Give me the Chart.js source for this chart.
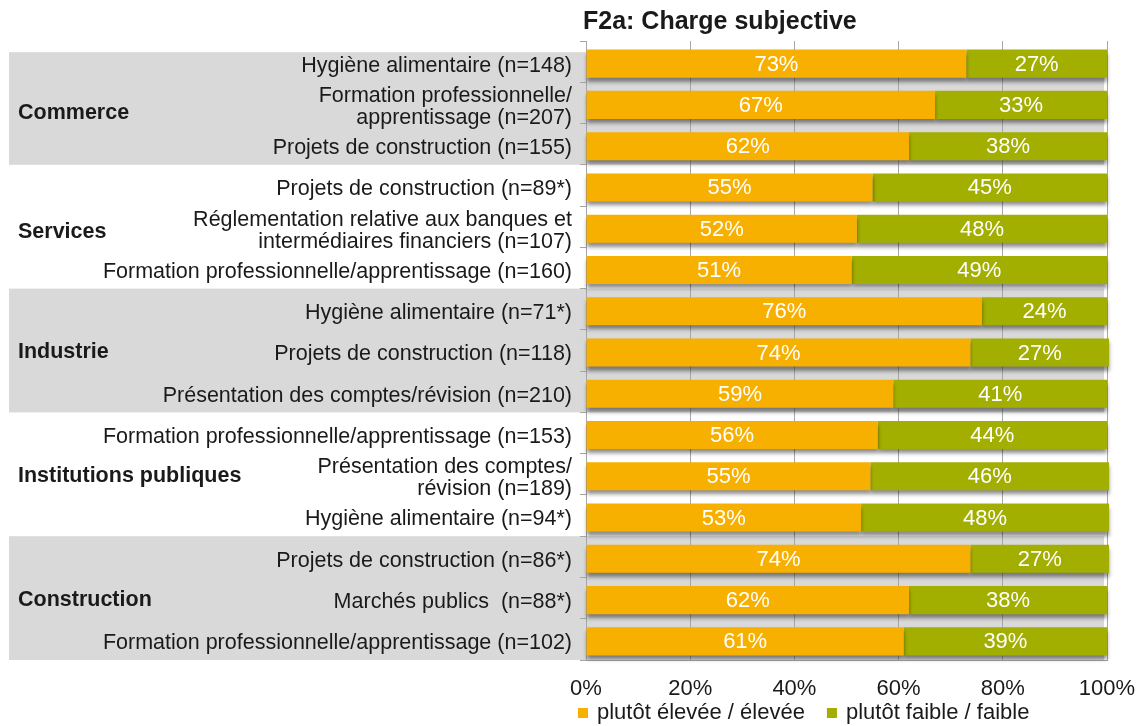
<!DOCTYPE html>
<html>
<head>
<meta charset="utf-8">
<script src="https://cdn.jsdelivr.net/npm/chart.js@4.4.1/dist/chart.umd.min.js"></script>
<style>
  html, body { margin: 0; padding: 0; background: #fff; }
  #wrap { width: 1138px; height: 726px; position: relative; }
</style>
</head>
<body>
<div id="wrap"><canvas id="chart"></canvas></div>
<script>
const TITLE = "F2a: Charge subjective";

const rowLabels = [
  "Hygiène alimentaire (n=148)",
  ["Formation professionnelle/", "apprentissage (n=207)"],
  "Projets de construction (n=155)",
  "Projets de construction (n=89*)",
  ["Réglementation relative aux banques et", "intermédiaires financiers (n=107)"],
  "Formation professionnelle/apprentissage (n=160)",
  "Hygiène alimentaire (n=71*)",
  "Projets de construction (n=118)",
  "Présentation des comptes/révision (n=210)",
  "Formation professionnelle/apprentissage (n=153)",
  ["Présentation des comptes/", "révision (n=189)"],
  "Hygiène alimentaire (n=94*)",
  "Projets de construction (n=86*)",
  "Marchés publics  (n=88*)",
  "Formation professionnelle/apprentissage (n=102)",
];

const groupNames = ["Commerce", "Services", "Industrie", "Institutions publiques", "Construction"];
const groupSizes = [3, 3, 3, 3, 3];

const seriesNames = ["plutôt élevée / élevée", "plutôt faible / faible"];
const highValues = [73, 67, 62, 55, 52, 51, 76, 73.8, 59, 56, 54.6, 52.8, 73.8, 62, 61];
const lowValues  = [27, 33, 38, 45, 48, 49, 24, 26.6, 41, 44, 45.8, 47.6, 26.6, 38, 39];

const xTicks = [0, 20, 40, 60, 80, 100];

const FONT = "'Liberation Sans', Arial, sans-serif";
const ORANGE = "#f8b000";
const GREEN = "#a3af00";
const GRID = "#a6a6a6";
const TEXT = "#1a1a1a";
const BAR_SHIFT = 2; // bars sit a little below the row centre in the original

// grey bands behind every other group + group names on the left
const bandPlugin = {
  id: "bands",
  beforeDraw(chart) {
    const { ctx, chartArea } = chart;
    const y = chart.scales.y;
    const row = y.getPixelForValue(1) - y.getPixelForValue(0);
    let start = 0;
    ctx.save();
    groupNames.forEach((name, g) => {
      const last = start + groupSizes[g] - 1;
      let top = y.getPixelForValue(start) - row / 2;
      const bottom = y.getPixelForValue(last) + row / 2;
      if (g === 0) top += row * 0.27;
      if (g % 2 === 0) {
        ctx.fillStyle = "#d9d9d9";
        ctx.fillRect(9, top, chartArea.right - 3 - 9, bottom - top);
      }
      ctx.fillStyle = TEXT;
      ctx.font = "bold 21.5px " + FONT;
      ctx.textAlign = "left";
      ctx.textBaseline = "middle";
      ctx.fillText(name, 18, (top + bottom) / 2 + (g < 2 ? 5 : 2));
      start = last + 1;
    });
    ctx.restore();
  },
};

// drop shadow under the bars
const shadowPlugin = {
  id: "barShadow",
  beforeDatasetsDraw(chart) {
    const ctx = chart.ctx;
    ctx.save();
    ctx.translate(0, BAR_SHIFT);
    ctx.shadowColor = "rgba(0,0,0,0.45)";
    ctx.shadowBlur = 4;
    ctx.shadowOffsetY = 4;
  },
  afterDatasetsDraw(chart) {
    chart.ctx.restore();
  },
};

const labelPlugin = {
  id: "segLabels",
  afterDatasetsDraw(chart) {
    const ctx = chart.ctx;
    ctx.save();
    ctx.fillStyle = "#ffffff";
    ctx.font = "22px " + FONT;
    ctx.textAlign = "center";
    ctx.textBaseline = "middle";
    chart.data.datasets.forEach((ds, di) => {
      chart.getDatasetMeta(di).data.forEach((bar, i) => {
        ctx.fillText(Math.round(ds.data[i]) + "%", (bar.x + bar.base) / 2, bar.y + BAR_SHIFT + 1);
      });
    });
    ctx.restore();
  },
};

const titleLegendPlugin = {
  id: "titleLegend",
  afterDraw(chart) {
    const { ctx, chartArea } = chart;
    ctx.save();
    ctx.fillStyle = TEXT;
    ctx.font = "bold 25px " + FONT;
    ctx.textAlign = "left";
    ctx.textBaseline = "middle";
    ctx.fillText(TITLE, chartArea.left - 3, 22);

    ctx.font = "22px " + FONT;
    let x = chartArea.left - 8;
    const ly = 713;
    chart.data.datasets.forEach((ds) => {
      ctx.fillStyle = ds.backgroundColor;
      ctx.fillRect(x, ly - 5, 10, 10);
      ctx.fillStyle = TEXT;
      ctx.fillText(ds.label, x + 19, ly);
      x += 19 + ctx.measureText(ds.label).width + 22;
    });
    ctx.restore();
  },
};

new Chart(document.getElementById("chart"), {
  type: "bar",
  data: {
    labels: rowLabels,
    datasets: [
      { label: seriesNames[0], data: highValues, backgroundColor: ORANGE, clip: false },
      { label: seriesNames[1], data: lowValues, backgroundColor: GREEN, clip: false },
    ],
  },
  options: {
    indexAxis: "y",
    responsive: true,
    maintainAspectRatio: false,
    animation: false,
    layout: { padding: { top: 41, right: 31, bottom: 26, left: 0 } },
    datasets: { bar: { categoryPercentage: 1, barPercentage: 0.68 } },
    plugins: {
      legend: { display: false },
      tooltip: { enabled: false },
    },
    scales: {
      x: {
        stacked: true,
        min: 0,
        max: 100,
        afterBuildTicks: (scale) => { scale.ticks = xTicks.map((v) => ({ value: v })); },
        ticks: {
          color: TEXT,
          font: { family: FONT, size: 22 },
          padding: 16,
          maxRotation: 0,
          callback: (v) => v + "%",
        },
        grid: { color: GRID, drawTicks: false },
        border: { display: true, color: GRID },
        afterFit: (scale) => {
          scale.height = 40;
          scale.paddingLeft = 0;
          scale.paddingRight = 0;
        },
      },
      y: {
        stacked: true,
        ticks: {
          color: TEXT,
          font: { family: FONT, size: 21.5, lineHeight: 1.03 },
          padding: 8,
          labelOffset: 4,
          autoSkip: false,
        },
        grid: { drawOnChartArea: false, offset: true, tickLength: 6, color: GRID },
        border: { display: true, color: GRID },
        afterFit: (scale) => { scale.width = 586; },
      },
    },
  },
  plugins: [bandPlugin, shadowPlugin, labelPlugin, titleLegendPlugin],
});
</script>
</body>
</html>
